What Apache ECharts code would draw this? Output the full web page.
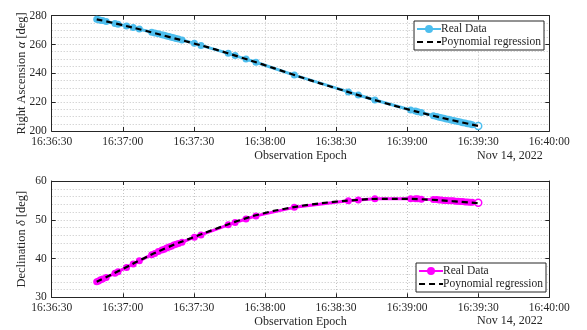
<!DOCTYPE html>
<html>
<head>
<meta charset="utf-8">
<script src="https://cdn.jsdelivr.net/npm/echarts@6/dist/echarts.min.js"></script>
<style>html,body{margin:0;padding:0;background:#fff}#c{width:587px;height:330px}</style>
</head>
<body>
<div id="c"></div>
<script>
// Observation epochs: seconds after 16:36:30 (Nov 14, 2022)
const xTickLabels = ['16:36:30','16:37:00','16:37:30','16:38:00','16:38:30','16:39:00','16:39:30','16:40:00'];
const dateLabel = 'Nov 14, 2022';
const tSec = [19.0,19.8,20.6,21.5,23.0,26.7,28.0,31.6,34.4,37.0,42.2,43.5,45.0,46.5,47.5,48.5,49.5,50.5,51.5,52.5,53.5,55.0,60.2,63.0,74.5,77.4,82.0,86.2,102.4,125.2,129.4,136.4,151.5,153.5,154.5,156.0,161.1,162.5,163.5,164.5,165.5,166.5,167.5,168.5,169.5,170.5,171.5,172.5,173.5,174.5,175.5,176.5,177.5,180.0];
const raData = [277.5,277.2,276.9,276.6,276.0,274.6,274.1,272.8,271.8,270.7,268.5,268.0,267.4,266.8,266.4,266.0,265.5,265.1,264.7,264.2,263.8,263.2,260.8,259.4,253.9,252.3,249.9,247.7,238.8,227.1,225.0,221.5,214.6,213.8,213.4,212.8,210.6,210.0,209.6,209.2,208.8,208.4,208.1,207.7,207.3,206.9,206.6,206.2,205.8,205.5,205.1,204.8,204.4,203.5];
const decData = [34.0,34.2,34.5,34.7,35.1,36.2,36.6,37.7,38.6,39.4,41.0,41.3,41.8,42.2,42.4,42.7,43.0,43.2,43.5,43.7,43.9,44.2,45.5,46.1,48.7,49.3,50.2,51.0,53.2,54.9,55.1,55.4,55.4,55.4,55.4,55.3,55.2,55.2,55.1,55.1,55.0,55.0,54.9,54.9,54.9,54.8,54.8,54.7,54.7,54.6,54.6,54.5,54.5,54.4];
// Polynomial regression curves
const tFit = [19,29,39,49,59,69,79,89,99,109,119,129,139,149,159,169,180];
const raFit = [277.5,273.8,269.8,265.5,261.2,256.6,251.5,246.2,240.7,235.3,230.2,225.1,220.2,215.6,211.4,207.5,203.5];
const decFit = [34.0,37.0,40.1,42.9,45.3,47.6,49.8,51.6,52.9,53.9,54.6,55.1,55.4,55.4,55.2,54.8,54.3];

const cyan = '#4DBEEE', magenta = '#FF00FF', axisCol = '#262626';
const FONT = 'Liberation Serif';
const FS = 11.5;

function pts(t, v, col) {
  return t.map((x, i) => i === t.length - 1
    ? {value: [x, v[i]], itemStyle: {color: '#fff', borderColor: col, borderWidth: 1.5}}
    : [x, v[i]]);
}
const gridLine = {show: true, lineStyle: {color: '#c4c4c4', type: [1, 2], width: 1}};
function xAxes(gi) {
  return [{
    type: 'value', gridIndex: gi, min: 0, max: 210, interval: 30,
    axisLine: {show: true, onZero: false, lineStyle: {color: axisCol, width: 1}},
    axisTick: {show: true, inside: true, length: 4, lineStyle: {color: axisCol}},
    axisLabel: {color: axisCol, fontFamily: FONT, fontSize: FS, margin: 5,
      formatter: v => xTickLabels[Math.round(v / 30)]},
    splitLine: gridLine,
    name: 'Observation Epoch', nameLocation: 'middle', nameGap: 19, nameMoveOverlap: false,
    nameTextStyle: {color: axisCol, fontFamily: FONT, fontSize: 12}
  }, {
    type: 'value', gridIndex: gi, position: 'top', min: 0, max: 210, interval: 30,
    axisLine: {show: true, onZero: false, lineStyle: {color: axisCol, width: 1}},
    axisTick: {show: true, inside: true, length: 4, lineStyle: {color: axisCol}},
    axisLabel: {show: false}, splitLine: {show: false}
  }];
}
function yAxes(gi, min, max, interval, split, nameStr) {
  return [{
    type: 'value', gridIndex: gi, min, max, interval,
    axisLine: {show: true, onZero: false, lineStyle: {color: axisCol, width: 1}},
    axisTick: {show: true, inside: true, length: 4, lineStyle: {color: axisCol}},
    axisLabel: {color: axisCol, fontFamily: FONT, fontSize: FS, margin: 5},
    splitLine: gridLine,
    minorTick: {show: true, splitNumber: split, length: 0, lineStyle: {width: 0}},
    minorSplitLine: gridLine,
    name: nameStr, nameLocation: 'middle', nameGap: 23, nameRotate: 90, nameMoveOverlap: false,
    nameTextStyle: {color: axisCol, fontFamily: FONT, fontSize: 12.5,
      rich: {i: {fontStyle: 'italic', fontFamily: FONT, fontSize: 12.5, color: axisCol}}}
  }, {
    type: 'value', gridIndex: gi, position: 'right', min, max, interval,
    axisLine: {show: true, onZero: false, lineStyle: {color: axisCol, width: 1}},
    axisTick: {show: true, inside: true, length: 4, lineStyle: {color: axisCol}},
    axisLabel: {show: false}, splitLine: {show: false}
  }];
}
const xa = [...xAxes(0), ...xAxes(1)];
const ya = [...yAxes(0, 200, 280, 20, 4, 'Right Ascension {i|α} [deg]'),
            ...yAxes(1, 30, 60, 10, 5, 'Declination {i|δ} [deg]')];

const legendBase = {
  orient: 'vertical', backgroundColor: '#fff', borderColor: axisCol, borderWidth: 1,
  padding: [2, 3, 2, 2], itemGap: 1, itemWidth: 24, itemHeight: 10,
  textStyle: {fontFamily: FONT, fontSize: FS, color: axisCol, padding: [0, 0, 0, -5]},
  formatter: n => n.replace(/ \(.*\)$/, ''), selectedMode: false
};
function legData(tag) {
  return [{name: 'Real Data ' + tag},
          {name: 'Poynomial regression ' + tag, itemStyle: {opacity: 0}}];
}

const option = {
  animation: false,
  grid: [
    {left: 51.7, right: 37.7, top: 15.7, height: 115.3},
    {left: 51.7, right: 37.7, top: 181, height: 116.3}
  ],
  xAxis: xa,
  yAxis: ya,
  legend: [
    Object.assign({}, legendBase, {right: 43, top: 21, data: legData('(a)')}),
    Object.assign({}, legendBase, {right: 41, top: 263, data: legData('(d)')})
  ],
  title: [
    {text: dateLabel, left: 477, top: 150, padding: 0, textStyle: {fontFamily: FONT, fontSize: 12, fontWeight: 'normal', color: axisCol}},
    {text: dateLabel, left: 477, top: 315, padding: 0, textStyle: {fontFamily: FONT, fontSize: 12, fontWeight: 'normal', color: axisCol}}
  ],
  series: [
    {name: 'Real Data (a)', type: 'line', xAxisIndex: 0, yAxisIndex: 0, data: pts(tSec, raData, cyan),
      symbol: 'circle', symbolSize: 7, showAllSymbol: true, color: cyan,
      lineStyle: {color: cyan, width: 3}, itemStyle: {color: cyan}, z: 2},
    {name: 'Poynomial regression (a)', type: 'line', xAxisIndex: 0, yAxisIndex: 0, data: tFit.map((t, i) => [t, raFit[i]]),
      smooth: true, symbol: 'none', color: '#000', lineStyle: {color: '#000', width: 2.2, type: [6, 4]}, z: 3},
    {name: 'Real Data (d)', type: 'line', xAxisIndex: 2, yAxisIndex: 2, data: pts(tSec, decData, magenta),
      symbol: 'circle', symbolSize: 7, showAllSymbol: true, color: magenta,
      lineStyle: {color: magenta, width: 3}, itemStyle: {color: magenta}, z: 2},
    {name: 'Poynomial regression (d)', type: 'line', xAxisIndex: 2, yAxisIndex: 2, data: tFit.map((t, i) => [t, decFit[i]]),
      smooth: true, symbol: 'none', color: '#000', lineStyle: {color: '#000', width: 2.2, type: [6, 4]}, z: 3}
  ]
};
echarts.init(document.getElementById('c'), null, {renderer: 'canvas'}).setOption(option);
</script>
</body>
</html>
